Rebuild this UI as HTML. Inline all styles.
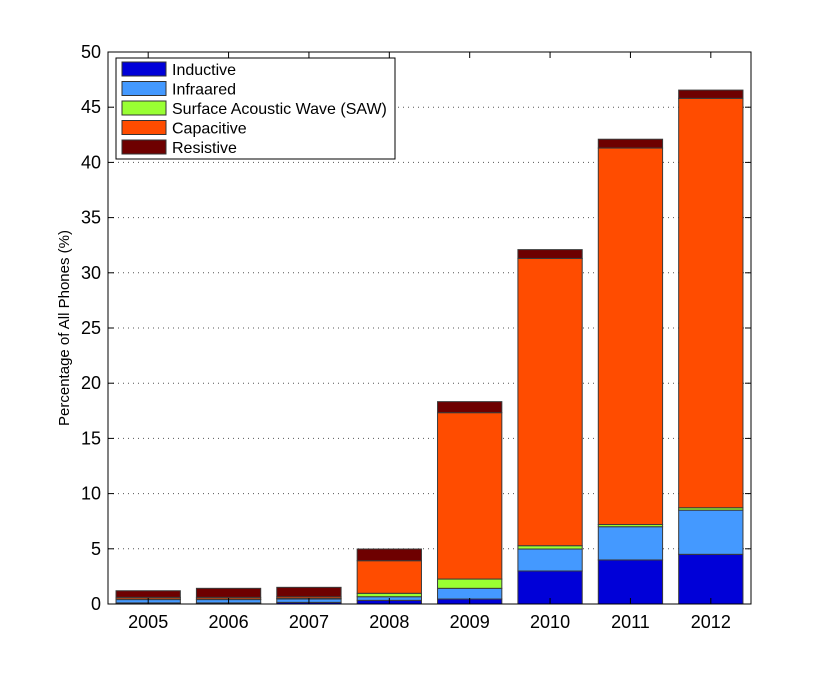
<!DOCTYPE html>
<html><head><meta charset="utf-8"><style>
body{margin:0;background:#fff;}
svg text{font-family:"Liberation Sans",Arial,sans-serif;}
</style></head><body>
<svg id="chart" width="830" height="680" viewBox="0 0 830 680" xmlns="http://www.w3.org/2000/svg">
<rect width="830" height="680" fill="#fff"/>
<g id="grid"></g><g id="bars"></g><g id="axes"></g><g id="legend"></g>
</svg>
<script>
const categories=["2005","2006","2007","2008","2009","2010","2011","2012"];
const seriesNames=["Inductive","Infraared","Surface Acoustic Wave (SAW)","Capacitive","Resistive"];
const seriesColors=["#0000d8","#4499ff","#99ff33","#ff4c00","#6e0000"];
const inductive=[0.1,0.1,0.15,0.33,0.45,2.99,3.99,4.5];
const infrared=[0.3,0.3,0.3,0.33,0.97,1.99,3.01,4.0];
const saw=[0.05,0.05,0.05,0.31,0.84,0.3,0.2,0.22];
const capacitive=[0.15,0.15,0.15,2.95,15.07,26.02,34.1,37.08];
const resistive=[0.6,0.82,0.86,1.06,1.0,0.8,0.8,0.75];
const yTicks=[0,5,10,15,20,25,30,35,40,45,50];
const series=[inductive,infrared,saw,capacitive,resistive];
const NS="http://www.w3.org/2000/svg";
const L=108,R=751,T=52,B=604,yMax=50;
const y=v=>B-(v/yMax)*(B-T);
const step=(R-L)/categories.length;
const xc=i=>L+step*(i+0.5);
const bw=step*0.8;
function mk(tag,attrs,parent){const e=document.createElementNS(NS,tag);for(const k in attrs)e.setAttribute(k,attrs[k]);parent.appendChild(e);return e;}
const grid=document.getElementById('grid'),bars=document.getElementById('bars'),axes=document.getElementById('axes'),leg=document.getElementById('legend');
yTicks.forEach(t=>{
  if(t>0&&t<yMax){const g=mk('line',{x1:L,x2:R,y1:y(t),y2:y(t),stroke:'#555','stroke-width':1,'stroke-dasharray':'1,4'},grid);
  
  }
  const tl=mk('line',{x1:L,x2:L+6,y1:y(t),y2:y(t),stroke:'#000'},axes);
  
  
  const tr=mk('line',{x1:R-6,x2:R,y1:y(t),y2:y(t),stroke:'#000'},axes);
  
  
  const tx=mk('text',{x:L-7,y:y(t)+6,'text-anchor':'end','font-size':18},axes);
  tx.textContent=t;
  
  
});
categories.forEach((c,i)=>{
  let acc=0;
  series.forEach((s,k)=>{
    const v=s[i];
    const r=mk('rect',{x:xc(i)-bw/2,y:y(acc+v),width:bw,height:y(acc)-y(acc+v),fill:seriesColors[k],stroke:'#3a3a3a','stroke-width':1},bars);
    
    
    acc+=v;
  });
  const tb=mk('line',{x1:xc(i),x2:xc(i),y1:B,y2:B-6,stroke:'#000'},axes);
  
  
  const tt=mk('line',{x1:xc(i),x2:xc(i),y1:T,y2:T+6,stroke:'#000'},axes);
  
  
  const lx=mk('text',{x:xc(i),y:B+24,'text-anchor':'middle','font-size':18},axes);
  lx.textContent=c;
  
  
});
const frame=mk('rect',{x:L,y:T,width:R-L,height:B-T,fill:'none',stroke:'#000','stroke-width':1},axes);


const yl=mk('text',{x:0,y:0,transform:'translate(69,328) rotate(-90)','text-anchor':'middle','font-size':15},axes);
yl.textContent='Percentage of All Phones (%)';


const lb=mk('rect',{x:116,y:58,width:279,height:101,fill:'#fff',stroke:'#000'},leg);


seriesNames.forEach((n,k)=>{
  const yy=62+k*19.5;
  const sw=mk('rect',{x:122,y:yy,width:44,height:14,fill:seriesColors[k],stroke:'#333'},leg);
  
  
  const t=mk('text',{x:172,y:yy+13,'font-size':16},leg);
  t.textContent=n;
  
  
});
</script>
</body></html>
